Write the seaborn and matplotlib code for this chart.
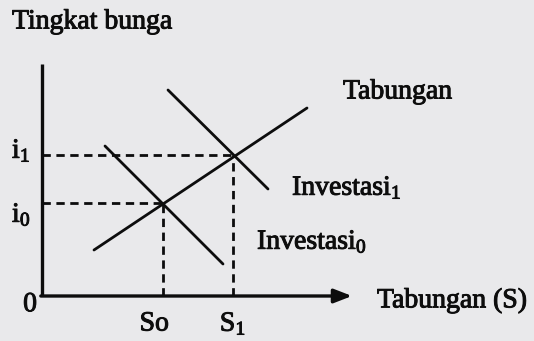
import matplotlib
matplotlib.use("Agg")
import matplotlib.pyplot as plt
import matplotlib.patheffects as pe
import seaborn as sns
import pandas as pd

# Curves of the loanable-funds diagram (interest rate vs. savings/investment)
savings_x = [1.3, 6.625]
savings_y = [1.15, 4.7]
invest0_x = [1.575, 4.525]
invest0_y = [3.75, 0.8]
invest1_x = [3.15, 5.65]
invest1_y = [5.15, 2.675]

# Equilibrium values
s_levels = [3.025, 4.775]
i_levels = [2.325, 3.525]
s_labels = ["So", "S$_1$"]
i_labels = ["i$_0$", "i$_1$"]

sns.set_theme(style="white")
plt.rcParams["font.family"] = ["Liberation Serif", "DejaVu Serif"]
plt.rcParams["mathtext.fontset"] = "custom"
plt.rcParams["mathtext.rm"] = "Liberation Serif"
plt.rcParams["mathtext.it"] = "Liberation Serif"
plt.rcParams["mathtext.bf"] = "Liberation Serif:bold"

paper = "#e9e9eb"
ink = "#0d0d0d"
fig = plt.figure(figsize=(5.34, 3.41), dpi=100, facecolor=paper)
ax = fig.add_axes([0, 0, 1, 1])
ax.set_facecolor(paper)
ax.set_xlim(-1.05, 12.3)
ax.set_ylim(-1.125, 7.4)
ax.axis("off")

curves = pd.concat([
    pd.DataFrame({"S": savings_x, "i": savings_y, "curve": "Tabungan"}),
    pd.DataFrame({"S": invest0_x, "i": invest0_y, "curve": "Investasi0"}),
    pd.DataFrame({"S": invest1_x, "i": invest1_y, "curve": "Investasi1"}),
])
sns.lineplot(data=curves, x="S", y="i", units="curve", estimator=None,
             color=ink, linewidth=2.0, legend=False, ax=ax, sort=False)

# Dashed guides from the axes to each equilibrium
dash = (0, (3.0, 2.0))
for s, i in zip(s_levels, i_levels):
    ax.plot([0, s], [i, i], color=ink, lw=2.0, linestyle=dash,
            dash_capstyle="butt")
    ax.plot([s, s], [0, i], color=ink, lw=2.0, linestyle=dash,
            dash_capstyle="butt")

# Axes
ax.plot([0, 0], [0, 5.8], color=ink, lw=2.4, solid_capstyle="butt")
ax.annotate("", xy=(7.75, 0), xytext=(-0.03, 0),
            arrowprops=dict(arrowstyle="-|>,head_length=0.9,head_width=0.35",
                            color=ink, lw=2.4, shrinkA=0, shrinkB=0))

fs = 20
heavy = [pe.withStroke(linewidth=0.7, foreground=ink)]
kw = dict(color=ink, fontsize=fs, fontweight="normal", path_effects=heavy)
ax.text(-0.75, 6.85, "Tingkat bunga", ha="left", va="center", **kw)
ax.text(7.525, 5.1, "Tabungan", ha="left", va="center", **kw)
ax.text(6.25, 2.7, "Investasi$_1$", ha="left", va="center", **kw)
ax.text(5.375, 1.35, "Investasi$_0$", ha="left", va="center", **kw)
ax.text(8.375, -0.12, "Tabungan (S)", ha="left", va="center", **kw)
ax.text(-0.3, -0.22, "0", ha="center", va="center", **kw)

for i, lab in zip(i_levels, i_labels):
    ax.text(-0.75, i - 0.3 if lab == "i$_0$" else i + 0.1, lab,
            ha="left", va="center", **kw)
for s, lab, dx in zip(s_levels, s_labels, [-0.22, 0.0]):
    ax.text(s + dx, -0.7, lab, ha="center", va="center", **kw)

fig.savefig("out.png", dpi=100, facecolor=paper)
